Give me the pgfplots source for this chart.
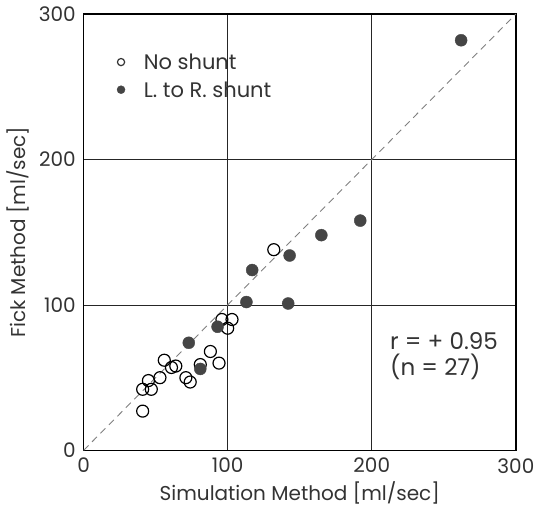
\documentclass[border=0pt]{standalone}
\usepackage{pgfplots}
\pgfplotsset{compat=1.18}
\usepackage{fontspec}
\setmainfont{Poppins}
\definecolor{ink}{HTML}{333333}
\definecolor{dot}{HTML}{454545}

\begin{document}
\fontsize{20bp}{24bp}\selectfont
\begin{tikzpicture}[x=1bp,y=1bp]
\begin{axis}[
  scale only axis,
  width=432bp, height=436bp,
  xmin=0, xmax=300, ymin=0, ymax=300,
  xtick={0,100,200,300}, ytick={0,100,200,300},
  grid=major,
  major grid style={black!85, line width=0.6pt},
  axis line style={black, line width=1.3pt},
  major tick length=0pt,
  tick label style={ink, font=\fontsize{20bp}{22bp}\selectfont},
  /pgf/number format/assume math mode=true,
  xticklabel style={yshift=-1bp},
  yticklabel style={xshift=-1bp},
  xlabel={Simulation Method [ml/sec]},
  ylabel={Fick Method [ml/sec]},
  label style={ink, font=\fontsize{20bp}{24bp}\selectfont},
  xlabel style={yshift=5bp},
  ylabel style={yshift=-4bp},
  clip=false,
]
% line of identity
\addplot[gray, line width=0.9pt, dash pattern=on 7bp off 5bp, forget plot]
  coordinates {(0,0) (300,300)};

% no shunt
\addplot[only marks, mark=o, mark size=6bp, black, line width=1.2pt,
  mark options={fill=white}]
  coordinates {
  (41,27) (41,42) (45,48) (47,42) (53,50) (56,62) (61,57) (64,58)
  (71,50) (74,47) (81,59) (88,68) (94,60) (96,90) (103,90) (100,84)
  (132,138)
  };

% left-to-right shunt
\addplot[only marks, mark=*, mark size=6bp, dot,
  mark options={draw=dot}]
  coordinates {
  (73,74) (81,56) (93,85) (113,102) (142,101) (117,124) (143,134)
  (165,148) (192,158) (262,282)
  };

% legend
\node[anchor=west, ink, font=\fontsize{21bp}{24bp}\selectfont]
  at (axis cs:37,267) {No shunt};
\node[anchor=west, ink, font=\fontsize{21bp}{24bp}\selectfont]
  at (axis cs:37,248) {L.\ to R.\ shunt};
\addplot[only marks, mark=o, mark size=3.6bp, ink, line width=1.2pt, forget plot]
  coordinates {(26,267)};
\addplot[only marks, mark=*, mark size=4bp, dot, forget plot]
  coordinates {(26,248)};

% correlation
\node[anchor=west, ink, font=\fontsize{23bp}{26bp}\selectfont, align=left]
  at (axis cs:208,65) {r = + 0.95\\(n = 27)};
\end{axis}
\end{tikzpicture}
\end{document}
